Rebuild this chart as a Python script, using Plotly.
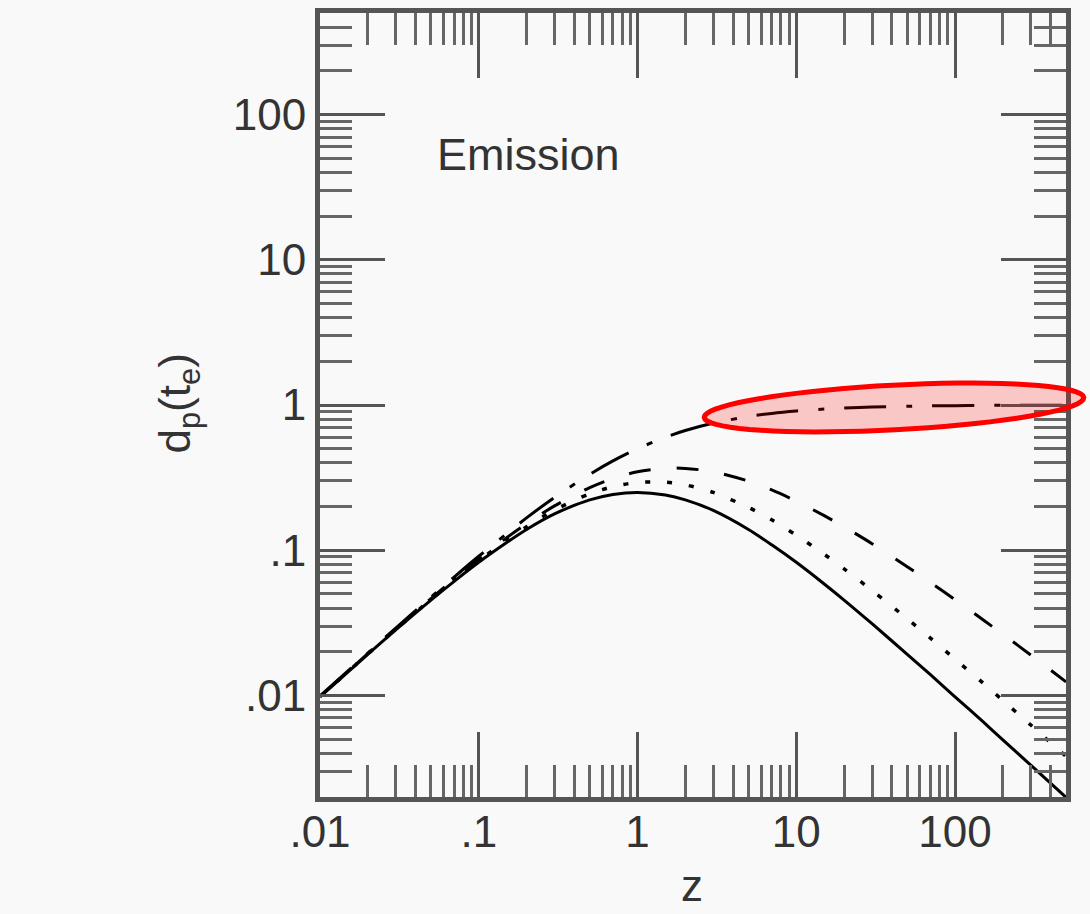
import math
import plotly.graph_objects as go

# ---- data ----
z = [0.01, 0.02, 0.03, 0.05, 0.07, 0.1, 0.15, 0.2, 0.3, 0.5, 0.7, 1, 1.5, 2, 3,
     5, 7, 10, 15, 20, 30, 50, 70, 100, 150, 200, 300, 500]
d_solid = [0.0098, 0.0192, 0.0283, 0.0454, 0.0611, 0.0826, 0.113, 0.139, 0.178, 0.222,
           0.242, 0.250, 0.240, 0.222, 0.188, 0.139, 0.109, 0.0826, 0.0586, 0.0454,
           0.0312, 0.0192, 0.0139, 0.0098, 0.0066, 0.00495, 0.00331, 0.00199]
d_dotted = [0.00983, 0.0193, 0.0285, 0.0459, 0.0622, 0.0846, 0.117, 0.145, 0.189, 0.245,
            0.274, 0.293, 0.294, 0.282, 0.250, 0.197, 0.162, 0.127, 0.0938, 0.0745,
            0.0529, 0.0337, 0.0248, 0.0178, 0.0122, 0.00925, 0.00626, 0.00381]
d_dashed = [0.00985, 0.0194, 0.0287, 0.0465, 0.0632, 0.0867, 0.122, 0.152, 0.202, 0.270,
            0.312, 0.347, 0.367, 0.366, 0.347, 0.299, 0.260, 0.218, 0.173, 0.145,
            0.111, 0.0771, 0.0600, 0.0457, 0.0332, 0.0264, 0.0190, 0.0124]
d_dashdot = [0.0099, 0.0196, 0.0291, 0.0476, 0.0654, 0.0909, 0.130, 0.167, 0.231, 0.333,
             0.412, 0.500, 0.600, 0.667, 0.750, 0.833, 0.875, 0.909, 0.938, 0.952,
             0.968, 0.980, 0.986, 0.990, 0.993, 0.995, 0.997, 0.998]

x_tickvals = [0.01, 0.1, 1, 10, 100]
x_ticktext = [".01", ".1", "1", "10", "100"]
y_tickvals = [0.01, 0.1, 1, 10, 100]
y_ticktext = [".01", ".1", "1", "10", "100"]

x_range = [0.01, 500]
y_range = [0.002, 500]

# ---- layout constants ----
W, H = 1090, 914
ML, MR, MT, MB = 320, 24, 8, 117
BG = "#f9f9f9"
FRAME = "#555555"
FONT = "Liberation Sans, Arial, sans-serif"


def minor_vals(lo, hi):
    out = []
    e = math.floor(math.log10(lo))
    while 10 ** e <= hi:
        for m in range(2, 10):
            v = m * 10 ** e
            if lo < v < hi:
                out.append(v)
        e += 1
    return out


fig = go.Figure()
styles = [
    (d_solid, "solid", 3),
    (d_dotted, "5px,17px", 3.5),
    (d_dashed, "22px,26px", 3),
    (d_dashdot, "42px,20px,6px,20px", 3),
]
for ys, dash, w in styles:
    fig.add_trace(go.Scatter(x=z, y=ys, mode="lines",
                             line=dict(color="black", width=w, dash=dash, shape="spline", smoothing=0.8),
                             showlegend=False, hoverinfo="skip"))

axis_common = dict(
    type="log", showgrid=False, zeroline=False,
    showline=True, linecolor=FRAME, linewidth=5, mirror="allticks",
    ticks="inside", ticklen=65, tickwidth=3, tickcolor=FRAME,
    tickfont=dict(family=FONT, size=44, color="#333333"),
)

fig.update_xaxes(**axis_common,
                 range=[math.log10(x_range[0]), math.log10(x_range[1])],
                 tickmode="array", tickvals=x_tickvals, ticktext=x_ticktext,
                 ticklabelstandoff=-8,
                 minor=dict(tickmode="array", tickvals=minor_vals(*x_range),
                            ticks="inside", ticklen=32, tickwidth=3, tickcolor="#666666",
                            showgrid=False))
fig.update_yaxes(**axis_common,
                 range=[math.log10(y_range[0]), math.log10(y_range[1])],
                 tickmode="array", tickvals=y_tickvals, ticktext=y_ticktext,
                 minor=dict(tickmode="array", tickvals=minor_vals(*y_range),
                            ticks="inside", ticklen=32, tickwidth=3, tickcolor="#666666",
                            showgrid=False))

pw, ph = W - ML - MR, H - MT - MB


def px2paper(px, py):
    return (px - ML) / pw, (H - MB - py) / ph


# highlight ellipse (pixel geometry converted to paper coordinates)
cx, cy, a, b = 894, 405, 190, 22.5
theta = math.atan2(395 - 415, 1084 - 704)
pts = []
for i in range(73):
    t = 2 * math.pi * i / 72
    ex = cx + a * math.cos(t) * math.cos(theta) - b * math.sin(t) * math.sin(theta)
    ey = cy + a * math.cos(t) * math.sin(theta) + b * math.sin(t) * math.cos(theta)
    pts.append(px2paper(ex, ey))
path = "M " + " L ".join(f"{p[0]:.5f},{p[1]:.5f}" for p in pts) + " Z"
fig.add_shape(type="path", xref="paper", yref="paper", path=path,
              line=dict(color="#ff0000", width=5), fillcolor="rgba(255,0,0,0.2)",
              layer="above")

ann = dict(xref="paper", yref="paper", showarrow=False, xanchor="center", yanchor="middle")
ex_, ey_ = px2paper(528, 150)
fig.add_annotation(x=ex_, y=ey_, text="Emission", **ann,
                   font=dict(family=FONT, size=45, color="#333333"))
tx, ty = px2paper(692, 913)
fig.add_annotation(x=tx, y=ty, text="z", xref="paper", yref="paper", showarrow=False,
                   xanchor="center", yanchor="bottom",
                   font=dict(family=FONT, size=44, color="#333333"))
yx, yy = px2paper(178, 401)
fig.add_annotation(x=yx, y=yy, text="d<sub>p</sub>(t<sub>e</sub>)", textangle=-90, **ann,
                   font=dict(family=FONT, size=44, color="#333333"))

fig.update_layout(width=W, height=H, margin=dict(l=ML, r=MR, t=MT, b=MB),
                  paper_bgcolor=BG, plot_bgcolor=BG, showlegend=False)

fig.write_html("out.html")
